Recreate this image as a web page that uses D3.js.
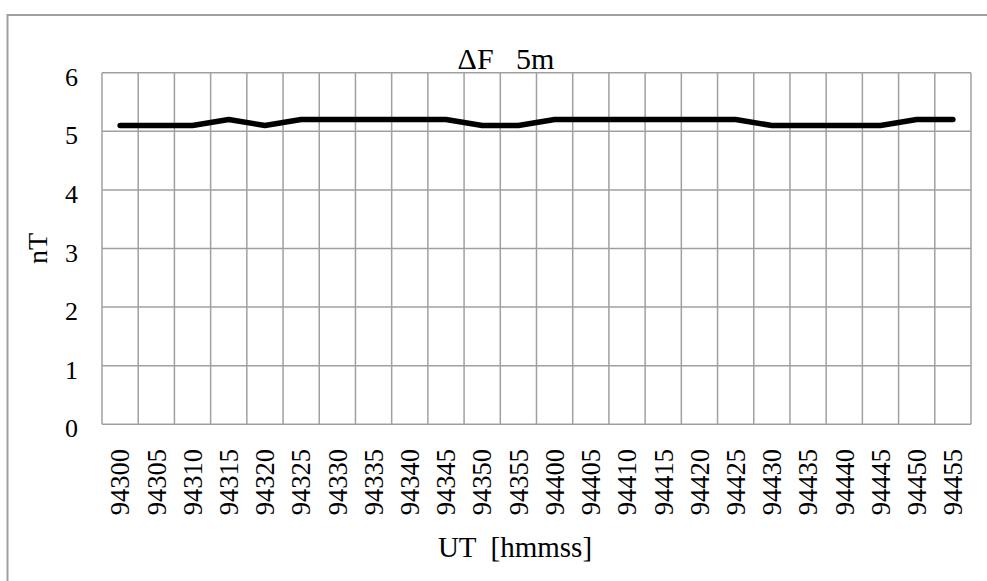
<!DOCTYPE html>
<html>
<head>
<meta charset="utf-8">
<script src="https://cdn.jsdelivr.net/npm/d3@7"></script>
<style>
  html, body { margin: 0; padding: 0; background: #fff; }
  svg { display: block; }
  text { font-family: "Liberation Serif", "Times New Roman", serif; fill: #000; }
</style>
</head>
<body>
<svg id="chart" width="987" height="581"></svg>
<script>
const categories = ["94300","94305","94310","94315","94320","94325","94330","94335","94340","94345","94350","94355","94400","94405","94410","94415","94420","94425","94430","94435","94440","94445","94450","94455"];
const values = [5.1,5.1,5.1,5.2,5.1,5.2,5.2,5.2,5.2,5.2,5.1,5.1,5.2,5.2,5.2,5.2,5.2,5.2,5.1,5.1,5.1,5.1,5.2,5.2];
const yTicks = [0,1,2,3,4,5,6];
const titleText = "ΔF   5m";
const xTitle = "UT  [hmmss]";
const yTitle = "nT";

const svg = d3.select("#chart");
const plot = { left: 102, right: 971, top: 72.7, bottom: 424.3 };

// chart area border (extends beyond right/bottom edges)
svg.append("rect")
  .attr("x", 7.5).attr("y", 15)
  .attr("width", 1100).attr("height", 700)
  .attr("fill", "#fff").attr("stroke", "#a0a0a0").attr("stroke-width", 2);

const x = d3.scaleBand().domain(categories).range([plot.left, plot.right]).padding(0);
const y = d3.scaleLinear().domain([0, 6]).range([plot.bottom, plot.top]);

const grid = svg.append("g").attr("stroke", "#a0a0a0").attr("stroke-width", 1.5).attr("fill", "none");
grid.selectAll("line.h").data(yTicks).join("line")
  .attr("class", "h")
  .attr("x1", plot.left).attr("x2", plot.right)
  .attr("y1", d => y(d)).attr("y2", d => y(d));
const bounds = categories.map(c => x(c)).concat([x(categories[categories.length - 1]) + x.bandwidth()]);
grid.selectAll("line.v").data(bounds).join("line")
  .attr("class", "v")
  .attr("x1", d => d).attr("x2", d => d)
  .attr("y1", plot.top).attr("y2", plot.bottom);

// y tick labels
svg.append("g").selectAll("text").data(yTicks).join("text")
  .attr("x", 78).attr("y", d => y(d) + 13)
  .attr("text-anchor", "end")
  .style("font-size", "26px")
  .text(d => d);

// x tick labels (rotated)
svg.append("g").selectAll("text").data(categories).join("text")
  .attr("transform", d => `translate(${x(d) + x.bandwidth() / 2},449) rotate(-90)`)
  .attr("text-anchor", "end")
  .attr("dy", "0.35em")
  .style("font-size", "26.5px")
  .text(d => d);

// line
const line = d3.line()
  .x((d, i) => x(categories[i]) + x.bandwidth() / 2)
  .y(d => y(d));
svg.append("path")
  .datum(values)
  .attr("d", line)
  .attr("fill", "none")
  .attr("stroke", "#000")
  .attr("stroke-width", 5.5)
  .attr("stroke-linejoin", "round")
  .attr("stroke-linecap", "round");

// chart title
svg.append("text")
  .attr("x", 506).attr("y", 69)
  .attr("text-anchor", "middle")
  .style("white-space", "pre")
  .style("font-size", "30px")
  .text(titleText);

// x axis title
svg.append("text")
  .attr("x", 515).attr("y", 557)
  .attr("text-anchor", "middle")
  .style("white-space", "pre")
  .style("font-size", "29px")
  .text(xTitle);

// y axis title
svg.append("text")
  .attr("transform", `translate(47,${(plot.top + plot.bottom) / 2}) rotate(-90)`)
  .attr("text-anchor", "middle")
  .style("font-size", "28px")
  .text(yTitle);
</script>
</body>
</html>
